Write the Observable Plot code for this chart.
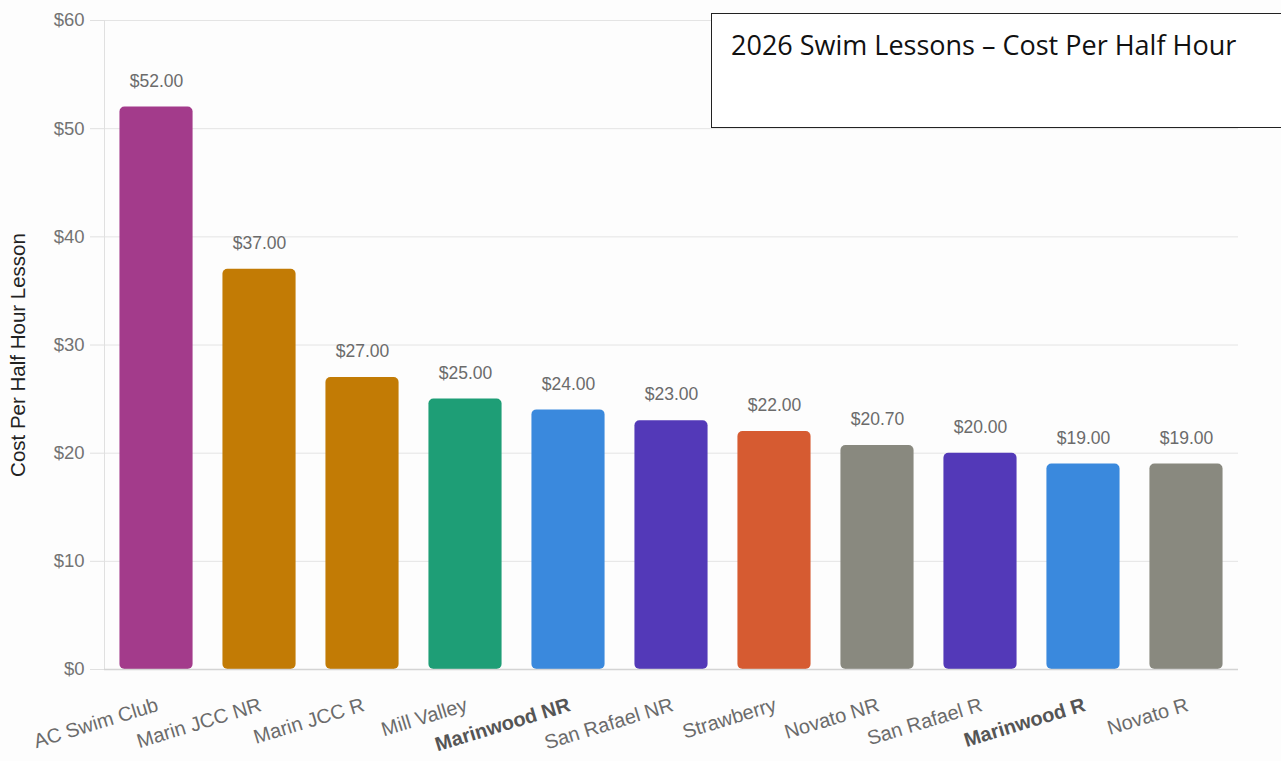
<!DOCTYPE html>
<html>
<head>
<meta charset="utf-8">
<script src="https://cdn.jsdelivr.net/npm/d3@7"></script>
<script src="https://cdn.jsdelivr.net/npm/@observablehq/plot@0.6"></script>
<style>
  html, body { margin: 0; padding: 0; background: #fdfdfd; }
  #wrap { position: relative; width: 1281px; height: 761px; overflow: hidden; }
  #title {
    position: absolute; left: 711px; top: 13px; width: 580px; height: 115px;
    border: 1px solid #222; background: #fff; box-sizing: border-box;
    font-family: "Open Sans", sans-serif; font-size: 27px; color: #111;
    padding: 13px 0 0 19px; line-height: 1.3;
  }
</style>
</head>
<body>
<div id="wrap">
  <div id="chart"></div>
  <div id="title">2026 Swim Lessons – Cost Per Half Hour</div>
</div>
<script>
const categories = ["AC Swim Club", "Marin JCC NR", "Marin JCC R", "Mill Valley", "Marinwood NR", "San Rafael NR", "Strawberry", "Novato NR", "San Rafael R", "Marinwood R", "Novato R"];
const costs = [52.00, 37.00, 27.00, 25.00, 24.00, 23.00, 22.00, 20.70, 20.00, 19.00, 19.00];
const barColors = ["#A33B8B", "#C27B05", "#C27B05", "#1E9E76", "#3A89DD", "#5339B8", "#D65B31", "#89897F", "#5339B8", "#3A89DD", "#89897F"];
const boldCategories = ["Marinwood NR", "Marinwood R"];
const yTicks = [0, 10, 20, 30, 40, 50, 60];

const data = categories.map((name, i) => ({name, cost: costs[i], color: barColors[i], bold: boldCategories.includes(name)}));

const chart = Plot.plot({
  width: 1281,
  height: 761,
  marginLeft: 104,
  marginRight: 43,
  marginTop: 20,
  marginBottom: 92,
  style: {fontFamily: "'Liberation Sans', Arial, sans-serif", background: "transparent"},
  x: {domain: categories, paddingInner: 0.29, paddingOuter: 0.15, round: false, axis: null},
  y: {domain: [0, 60], axis: null},
  marks: [
    Plot.gridY(yTicks, {stroke: "#e4e4e4", strokeOpacity: 1}),
    Plot.axisY(yTicks, {tickSize: 14, tickPadding: 6, stroke: "#e0e0e0", fill: "#737373", fontSize: 18.5, tickFormat: d => "$" + d, label: null}),
    Plot.frame({anchor: "left", stroke: "#e0e0e0"}),
    Plot.barY(data, {x: "name", y: "cost", fill: d => d.color, rx: 5}),
    Plot.ruleY([0], {stroke: "#d4d4d4", strokeWidth: 1.5}),
    Plot.text(data, {x: "name", y: "cost", text: d => "$" + d.cost.toFixed(2), dy: -26, fill: "#6b6b6b", fontSize: 17.5}),
    Plot.text(data.filter(d => !d.bold), {x: "name", y: () => 0, text: "name", rotate: -17, textAnchor: "end", lineAnchor: "bottom", dx: 3, dy: 41, fill: "#6b6b6b", fontSize: 20}),
    Plot.text(data.filter(d => d.bold), {x: "name", y: () => 0, text: "name", rotate: -17, textAnchor: "end", lineAnchor: "bottom", dx: 3, dy: 41, fill: "#555", fontSize: 20, fontWeight: "bold"}),
    Plot.text(["Cost Per Half Hour Lesson"], {frameAnchor: "left", textAnchor: "middle", text: d => d, rotate: -90, dx: -86, dy: 10, fill: "#222", fontSize: 20.5})
  ]
});
document.getElementById("chart").appendChild(chart);
</script>
</body>
</html>
